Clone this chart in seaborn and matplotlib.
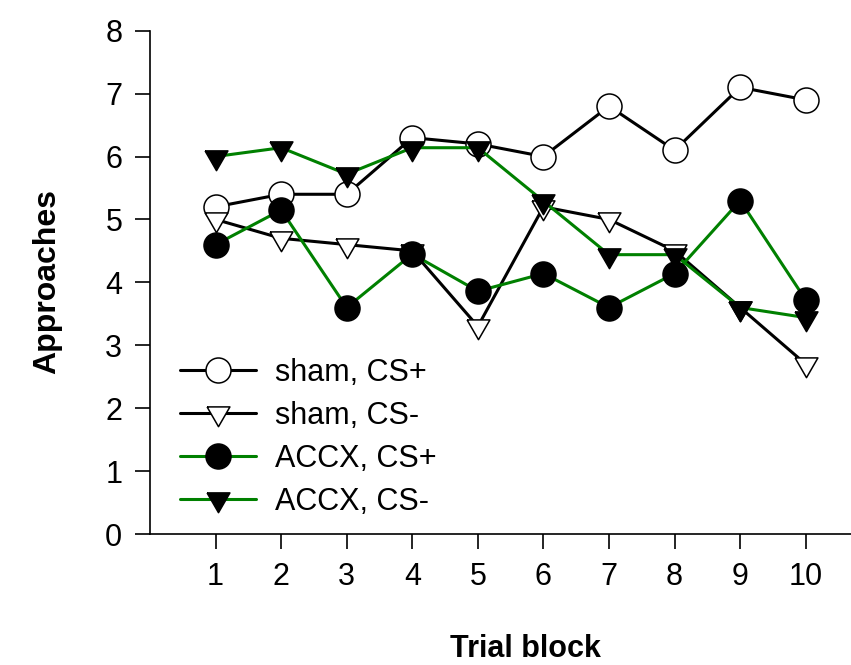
import numpy as np
import pandas as pd
import matplotlib
matplotlib.use("Agg")
import matplotlib.pyplot as plt
import seaborn as sns

# values
trial_block = [1, 2, 3, 4, 5, 6, 7, 8, 9, 10]
sham_cs_plus = [5.2, 5.4, 5.4, 6.3, 6.2, 6.0, 6.8, 6.1, 7.1, 6.9]
sham_cs_minus = [5.0, 4.7, 4.6, 4.5, 3.3, 5.2, 5.0, 4.5, 3.6, 2.7]
accx_cs_plus = [4.6, 5.15, 3.6, 4.45, 3.86, 4.14, 3.6, 4.14, 5.3, 3.72]
accx_cs_minus = [6.0, 6.14, 5.72, 6.14, 6.14, 5.29, 4.44, 4.44, 3.6, 3.44]
series_labels = ["sham, CS+", "sham, CS-", "ACCX, CS+", "ACCX, CS-"]

sns.set_style("ticks")
plt.rcParams['font.family'] = ['Liberation Sans', 'DejaVu Sans']
plt.rcParams.update({"text.color": "black", "axes.labelcolor": "black",
                     "xtick.color": "black", "ytick.color": "black",
                     "axes.edgecolor": "black"})

W, H = 851, 665
fig = plt.figure(figsize=(W / 100, H / 100), dpi=100)
ax = fig.add_axes([150 / W, (H - 534) / H, (W - 150) / W, (534 - 30.7) / H])

# down triangle centred on its centroid (like the original software)
tri_down = [(-1, 0.577), (1, 0.577), (0, -1.155), (-1, 0.577)]

styles = [
    (sham_cs_plus, "black", "white", "o", 18),
    (sham_cs_minus, "black", "white", tri_down, 19),
    (accx_cs_plus, "green", "black", "o", 18),
    (accx_cs_minus, "green", "black", tri_down, 19),
]

for (vals, lc, fc, mk, ms), lab in zip(styles, series_labels):
    sns.lineplot(x=trial_block, y=vals, ax=ax, color=lc, linewidth=2.2,
                 marker=mk, markersize=ms, markerfacecolor=fc,
                 markeredgecolor="black", markeredgewidth=1.1,
                 label=lab, clip_on=False)

ax.set_xlim(0, 10.69)
ax.set_ylim(0, 8)
ax.set_xticks(trial_block)
ax.set_yticks(range(0, 9))
sns.despine(ax=ax)
for s in ["left", "bottom"]:
    ax.spines[s].set_linewidth(1.2)
ax.tick_params(axis="both", direction="out", length=11, width=1.2,
               labelsize=22, pad=9)

ax.set_xlabel("Trial block", fontsize=22, fontweight="bold", labelpad=0)
ax.set_ylabel("Approaches", fontsize=23, fontweight="bold")
ax.xaxis.set_label_coords((525 - 150) / (W - 150), -(657 - 534) / (534 - 30.7))
ax.yaxis.set_label_coords(-(150 - 47) / (W - 150), (534 - 282) / (534 - 30.7))
ax.xaxis.label.set_va("baseline")
ax.yaxis.label.set_va("center")

leg = ax.legend(loc="upper left", bbox_to_anchor=(180 / W, (H - 358) / H),
                bbox_transform=fig.transFigure, frameon=False, fontsize=22,
                handlelength=2.5, handletextpad=0.6, labelspacing=0.42,
                borderpad=0, borderaxespad=0)

fig.savefig("out.png", dpi=100)
